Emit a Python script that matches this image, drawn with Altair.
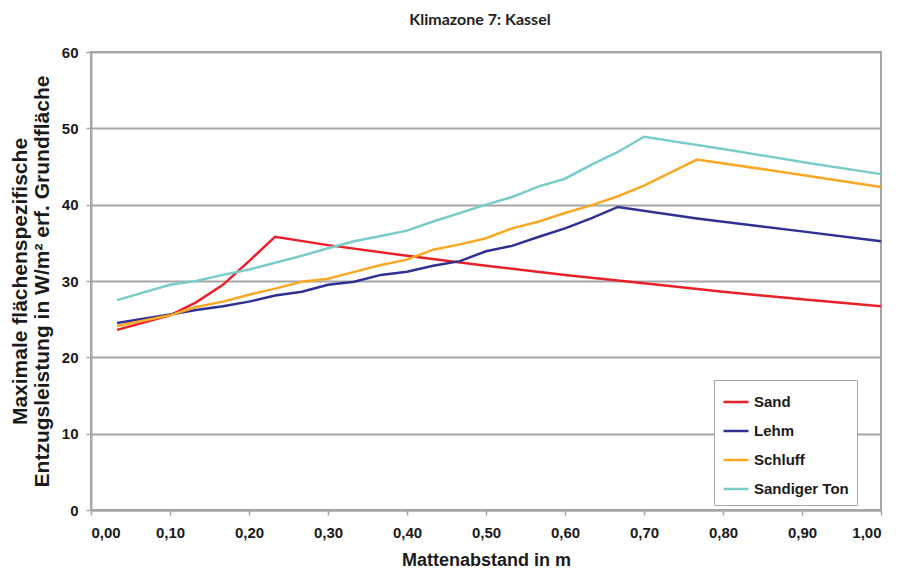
import altair as alt
import pandas as pd

# ---- data ----
sand_x = [0.033, 0.1, 0.133, 0.167, 0.2, 0.233, 0.3, 0.4, 0.5, 0.6, 0.7, 0.8, 0.9, 1.0]
sand_y = [23.6, 25.5, 27.2, 29.5, 32.6, 35.8, 34.7, 33.3, 32.0, 30.8, 29.7, 28.6, 27.6, 26.7]

lehm_x = [0.033, 0.1, 0.133, 0.167, 0.2, 0.233, 0.267, 0.3, 0.333, 0.367, 0.4, 0.433,
          0.467, 0.5, 0.533, 0.567, 0.6, 0.633, 0.667, 0.767, 0.9, 1.0]
lehm_y = [24.5, 25.6, 26.2, 26.7, 27.3, 28.1, 28.6, 29.5, 29.9, 30.8, 31.2, 32.0,
          32.6, 33.9, 34.6, 35.8, 36.9, 38.2, 39.7, 38.2, 36.5, 35.2]

schluff_x = [0.033, 0.1, 0.133, 0.167, 0.2, 0.233, 0.267, 0.3, 0.333, 0.367, 0.4, 0.433,
             0.467, 0.5, 0.533, 0.567, 0.6, 0.633, 0.667, 0.7, 0.767, 0.9, 1.0]
schluff_y = [24.1, 25.5, 26.6, 27.3, 28.2, 29.0, 29.9, 30.3, 31.2, 32.1, 32.8, 34.1,
             34.8, 35.6, 36.9, 37.8, 38.9, 39.9, 41.1, 42.5, 45.9, 43.9, 42.3]

ton_x = [0.033, 0.1, 0.133, 0.167, 0.2, 0.233, 0.267, 0.3, 0.333, 0.367, 0.4, 0.433,
         0.467, 0.5, 0.533, 0.567, 0.6, 0.633, 0.667, 0.7, 0.8, 0.9, 1.0]
ton_y = [27.5, 29.5, 30.0, 30.8, 31.5, 32.4, 33.3, 34.3, 35.2, 35.9, 36.6, 37.8,
         38.9, 40.0, 41.0, 42.4, 43.4, 45.2, 46.9, 48.9, 47.3, 45.6, 44.0]

series_names = ["Sand", "Lehm", "Schluff", "Sandiger Ton"]
series_colors = ["#e8202a", "#2e3192", "#f9a825", "#7accc8"]

x_ticks = [0.0, 0.1, 0.2, 0.3, 0.4, 0.5, 0.6, 0.7, 0.8, 0.9, 1.0]
y_ticks = [0, 10, 20, 30, 40, 50, 60]

rows = []
for name, xs, ys in zip(series_names,
                        [sand_x, lehm_x, schluff_x, ton_x],
                        [sand_y, lehm_y, schluff_y, ton_y]):
    for i, (xv, yv) in enumerate(zip(xs, ys)):
        rows.append({"Boden": name, "x": xv, "y": yv, "i": i})
df = pd.DataFrame(rows)

LABEL_FONT = "Liberation Sans"
GRID = "#a6a6a6"

chart = alt.Chart(df).mark_line(strokeWidth=2.5).encode(
    x=alt.X("x:Q",
            scale=alt.Scale(domain=[0, 1], nice=False, zero=False),
            axis=alt.Axis(values=x_ticks,
                          labelExpr="replace(format(datum.value, '.2f'), '.', ',')",
                          title="Mattenabstand in m",
                          grid=False, tickSize=5, labelPadding=10,
                          titleFontSize=18, titleBaseline="alphabetic",
                          titleY=55, titleAlign="center")),
    y=alt.Y("y:Q",
            scale=alt.Scale(domain=[0, 60], nice=False),
            axis=alt.Axis(values=y_ticks, grid=True, tickSize=5, labelPadding=8,
                          title=["Maximale flächenspezifische",
                                 "Entzugsleistung in W/m² erf. Grundfläche"],
                          titleFontSize=21, titleLineHeight=22,
                          titleX=-71, titleY=229, titleAngle=-90,
                          titleAlign="center", titleBaseline="middle")),
    color=alt.Color("Boden:N",
                    sort=series_names,
                    scale=alt.Scale(domain=series_names, range=series_colors),
                    legend=alt.Legend(title=None, orient="none",
                                      legendX=623, legendY=328,
                                      symbolType="stroke", symbolSize=625,
                                      symbolStrokeWidth=2.5,
                                      labelFontSize=15, labelFont=LABEL_FONT,
                                      labelFontWeight="bold", labelColor="#1a1a1a",
                                      rowPadding=7, padding=8,
                                      strokeColor=GRID, fillColor="white")),
    order=alt.Order("i:Q"),
).properties(
    width=790,
    height=458,
    autosize=alt.AutoSizeParams(type="none"),
    padding={"left": 83, "top": 44, "right": 10, "bottom": 59},
    title=alt.TitleParams("Klimazone 7: Kassel", font="Lato", fontSize=16,
                          fontWeight="bold", anchor="middle", offset=17, dx=-6,
                          color="#222222"),
).configure_view(
    stroke=GRID, strokeWidth=2
).configure_axis(
    domainColor=GRID, domainWidth=2, tickColor=GRID, tickWidth=1.5,
    gridColor=GRID, gridWidth=2,
    labelFont=LABEL_FONT, labelFontWeight="bold", labelFontSize=15,
    labelColor="#1a1a1a",
    titleFont=LABEL_FONT, titleFontWeight="bold", titleColor="#1a1a1a",
)

chart.save("out.html", embed_options={"renderer": "svg", "actions": False})
